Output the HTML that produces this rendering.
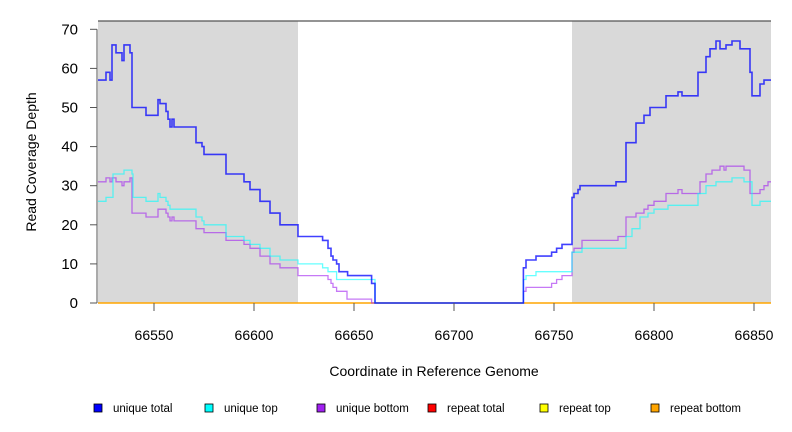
<!DOCTYPE html>
<html><head><meta charset="utf-8">
<style>
body{margin:0;background:#fff;}
svg{display:block;font-family:"Liberation Sans",sans-serif;}
</style></head>
<body>
<svg id="chart" width="792" height="432" viewBox="0 0 792 432"></svg>
<script>
const xTicks=[66550,66600,66650,66700,66750,66800,66850];
const yTicks=[0,10,20,30,40,50,60,70];
const shadedRegions=[[66522,66622],[66759,66858.5]];
const totalStarts=[66522,66526,66528,66529,66531,66534,66535,66538,66539,66546,66552,66553,66556,66557,66558,66559,66560,66571,66574,66575,66586,66595,66598,66603,66608,66613,66622,66634.3,66637,66638.5,66639.5,66641.3,66642.5,66646.8,66658.8,66660.5,66734.7,66736,66741,66748.8,66751.3,66754,66759,66760,66762,66763,66781,66786,66791,66795,66798,66806,66812,66814,66822,66826,66828,66831,66833,66836,66839,66843,66848,66849,66853,66855];
const totalValues=[57,59,57,66,64,62,66,64,50,48,52,51,49,47,45,47,45,41,40,38,33,31,29,26,23,20,17,16,14,12,11,10,8,7,5,0,9,11,12,13,14,15,27,28,29,30,31,41,46,48,50,53,54,53,59,63,65,67,65,66,67,65,59,53,56,57];
const topStarts=[66522,66526,66529.5,66535,66539,66539.5,66546,66552,66553,66556,66557,66558,66571,66574,66575,66586,66595,66598,66603,66608,66613,66622,66634.3,66637,66641.3,66660.5,66734.7,66736,66741,66759,66764,66786,66789,66793,66797,66800,66807,66822,66826,66831,66839,66845,66849,66853];
const topValues=[26,27,33,34,33,27,26,28,27,26,25,24,22,21,20,17,16,15,14,12,11,10,9,8,6,0,6,7,8,13,14,17,19,22,23,24,25,28,30,31,32,31,25,26];
const bottomStarts=[66522,66526,66528,66529,66531,66534,66535,66538,66539,66546,66552,66556,66557,66558,66559,66560,66571,66575,66586,66595,66598,66603,66608,66613,66622,66637,66638.5,66639.5,66641.3,66646.5,66658.8,66734.7,66736,66748.8,66751.3,66754,66759,66760,66764,66781,66782,66786,66791,66795,66797,66800,66806,66812,66814,66823,66826,66829,66833,66835,66836,66845,66848,66853,66855,66857];
const bottomValues=[31,32,31,32,31,30,31,32,23,22,24,23,22,21,22,21,19,18,16,15,14,12,10,9,7,6,5,4,3,1,0,3,4,5,6,7,13,14,16,16,17,22,23,24,25,26,28,29,28,31,33,34,35,34,35,34,28,29,30,31];
const xMax=66858.5;
const legendLabels=["unique total","unique top","unique bottom","repeat total","repeat top","repeat bottom"];
const legendColors=["#0000ff","#00ffff","#a020f0","#ff0000","#ffff00","#ffa500"];

const L=98,R=771,T=21,B=303;
const xs=v=>L+(v-66522)/(xMax-66522)*(R-L);
const ys=v=>B-v/70*(B-29.3);
const svg=document.getElementById('chart');
const NS='http://www.w3.org/2000/svg';
function mk(tag,attrs,parent){const e=document.createElementNS(NS,tag);for(const k in attrs)e.setAttribute(k,attrs[k]);(parent||svg).appendChild(e);return e;}

shadedRegions.forEach((r,i)=>{
  const e=mk('rect',{x:xs(r[0]),y:T,width:xs(r[1])-xs(r[0]),height:B-T,fill:'#d9d9d9'});
  
  
});
const topBorder=mk('line',{x1:L,y1:T,x2:R,y2:T,stroke:'#555','stroke-width':1.2});



function stepPath(starts,vals,end){
  let d='';
  for(let i=0;i<starts.length;i++){
    const x0=xs(starts[i]),x1=xs(i+1<starts.length?starts[i+1]:end),y=ys(vals[i]);
    d+=(i===0?'M':'L')+x0.toFixed(1)+','+y.toFixed(1)+'L'+x1.toFixed(1)+','+y.toFixed(1);
  }
  return d;
}
const rep=mk('line',{x1:L,y1:B,x2:R,y2:B,stroke:'#ffa500','stroke-width':1.5});



const pb=mk('path',{d:stepPath(bottomStarts,bottomValues,xMax),fill:'none',stroke:'#a020f0','stroke-opacity':0.6,'stroke-width':1.3});


const pt=mk('path',{d:stepPath(topStarts,topValues,xMax),fill:'none',stroke:'#00ffff','stroke-opacity':0.6,'stroke-width':1.3});


const pu=mk('path',{d:stepPath(totalStarts,totalValues,xMax),fill:'none',stroke:'#0000ff','stroke-opacity':0.75,'stroke-width':1.6});



const ya=mk('line',{x1:L-1,y1:ys(0),x2:L-1,y2:ys(70),stroke:'#555','stroke-width':1});


yTicks.forEach(v=>{
  const t=mk('line',{x1:L-8,y1:ys(v),x2:L-1,y2:ys(v),stroke:'#555'});
  
  
  const tx=mk('text',{x:L-20,y:ys(v)+5,'font-size':15,'text-anchor':'end',fill:'#000'});
  tx.textContent=v;
  
  
});
xTicks.forEach(v=>{
  const t=mk('line',{x1:xs(v),y1:B,x2:xs(v),y2:B+8,stroke:'#555'});
  
  
  const tx=mk('text',{x:xs(v),y:B+37,'font-size':14,'text-anchor':'middle',fill:'#000'});
  tx.textContent=v;
  
  
});
const xt=mk('text',{x:434,y:376,'font-size':14,'text-anchor':'middle'});
xt.textContent='Coordinate in Reference Genome';


const yt=mk('text',{x:36,y:162,'font-size':14,'text-anchor':'middle',transform:'rotate(-90 36 162)'});
yt.textContent='Read Coverage Depth';



const legX=[94,205,317,428,540,651];
legendLabels.forEach((lab,i)=>{
  const g=mk('g',{});
  
  
  mk('rect',{x:legX[i],y:404,width:8,height:8,fill:legendColors[i],stroke:'#000','stroke-width':0.8},g);
  const tx=mk('text',{x:legX[i]+19,y:412,'font-size':11.5},g);
  tx.textContent=lab;
});
</script>
</body></html>
